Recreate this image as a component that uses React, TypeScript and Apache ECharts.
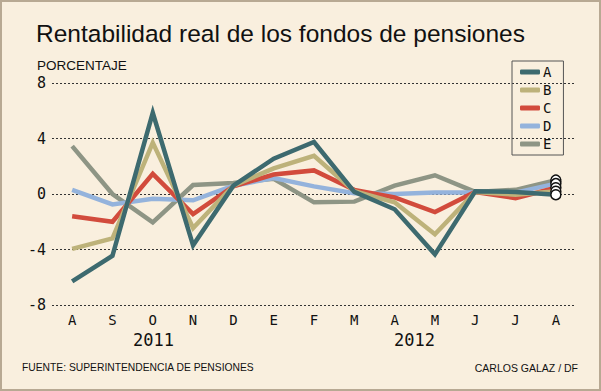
import React, { useEffect, useRef } from "react";
import * as echarts from "echarts";

const months = ["A", "S", "O", "N", "D", "E", "F", "M", "A", "M", "J", "J", "A"];
const seriesNames = ["A", "B", "C", "D", "E"];
const serieA = [-6.3, -4.45, 5.85, -3.7, 0.6, 2.55, 3.75, 0.15, -1.1, -4.35, 0.2, 0.15, -0.05];
const serieB = [-3.95, -3.2, 3.7, -2.45, 0.6, 1.85, 2.75, 0.2, -0.6, -2.9, 0.15, -0.05, 0.2];
const serieC = [-1.6, -2.0, 1.45, -1.45, 0.55, 1.4, 1.7, 0.3, -0.25, -1.3, 0.15, -0.3, 0.45];
const serieD = [0.3, -0.75, -0.35, -0.45, 0.6, 1.15, 0.55, 0.05, 0.0, 0.1, 0.1, 0.1, 0.75];
const serieE = [3.45, 0.0, -2.05, 0.65, 0.8, 1.1, -0.6, -0.55, 0.6, 1.35, 0.15, 0.3, 1.0];
const yTicks = [-8, -4, 0, 4, 8];
const years = ["2011", "2012"];

const colors = ["#3d6a6f", "#bdb27a", "#d24b3c", "#94b3dc", "#8e9585"];
const allData = [serieA, serieB, serieC, serieD, serieE];

export default function App() {
  const ref = useRef<HTMLDivElement>(null);
  useEffect(() => {
    document.body.style.margin = "0";
    const chart = echarts.init(ref.current!, null, { renderer: "svg" });
    const series = allData.map((d, i) => ({
      name: seriesNames[i],
      type: "line",
      z: 10 - i,
      symbol: "none",
      showSymbol: true,
      showAllSymbol: true,
      lineStyle: { width: 4.5, color: colors[i], join: "miter" },
      itemStyle: { color: colors[i] },
      emphasis: { disabled: true },
      data: d.map((v, j) =>
        j === d.length - 1
          ? {
              value: v,
              symbol: "circle",
              symbolSize: 10,
              itemStyle: { color: "#ffffff", borderColor: "#111", borderWidth: 1.5 },
            }
          : v
      ),
    }));
    chart.setOption({
      animation: false,
      backgroundColor: "#f9efde",
      title: [
        {
          text: "Rentabilidad real de los fondos de pensiones",
          left: 31,
          top: 16,
          textStyle: { fontFamily: "Liberation Sans", fontSize: 24.5, fontWeight: "normal", color: "#111" },
        },
        {
          text: "PORCENTAJE",
          left: 32,
          top: 53,
          textStyle: { fontFamily: "Liberation Sans", fontSize: 13.5, fontWeight: "normal", color: "#111" },
        },
      ],
      legend: {
        orient: "vertical",
        left: 512,
        top: 61,
        data: seriesNames,
        icon: "roundRect",
        itemWidth: 20,
        itemHeight: 5,
        itemGap: 4,
        padding: [4, 12, 4, 8],
        borderColor: "#555",
        borderWidth: 1,
        selectedMode: false,
        textStyle: { fontFamily: "DejaVu Sans Mono", fontSize: 14, color: "#111", lineHeight: 14, padding: [0, 0, 0, -2] },
      },
      grid: { left: 52, right: 25, top: 83, bottom: 86 },
      xAxis: {
        type: "category",
        data: months,
        boundaryGap: true,
        axisLine: { show: false },
        axisTick: { show: false },
        axisLabel: { fontFamily: "DejaVu Sans Mono", fontSize: 14, color: "#111", margin: 8 },
      },
      yAxis: {
        type: "value",
        min: -8,
        max: 8,
        interval: 4,
        axisLine: { show: false },
        axisTick: { show: false },
        axisLabel: {
          fontFamily: "DejaVu Sans Mono",
          fontSize: 15,
          color: "#111",
          margin: 6,
          formatter: (v: number) => (yTicks.includes(v) ? String(v) : ""),
        },
        splitLine: { show: true, lineStyle: { color: "#333", width: 1, type: [2, 2] } },
      },
      graphic: [
        {
          type: "text",
          left: 133,
          top: 331,
          style: { text: years[0], font: "17px DejaVu Sans Mono", fill: "#111" },
        },
        {
          type: "text",
          left: 394,
          top: 331,
          style: { text: years[1], font: "17px DejaVu Sans Mono", fill: "#111" },
        },
        {
          type: "text",
          left: 22,
          top: 362,
          style: { text: "FUENTE: SUPERINTENDENCIA DE PENSIONES", font: "10.3px Liberation Sans", fill: "#111" },
        },
        {
          type: "text",
          right: 23,
          top: 362,
          style: { text: "CARLOS GALAZ / DF", font: "10.5px Liberation Sans", fill: "#111" },
        },
        {
          type: "rect",
          shape: { x: 1, y: 1, width: 599, height: 389 },
          style: { fill: "none", stroke: "#b8a993", lineWidth: 2 },
          silent: true,
        },
      ],
      series,
    });
    return () => chart.dispose();
  }, []);
  return <div ref={ref} style={{ width: 601, height: 391 }} />;
}
